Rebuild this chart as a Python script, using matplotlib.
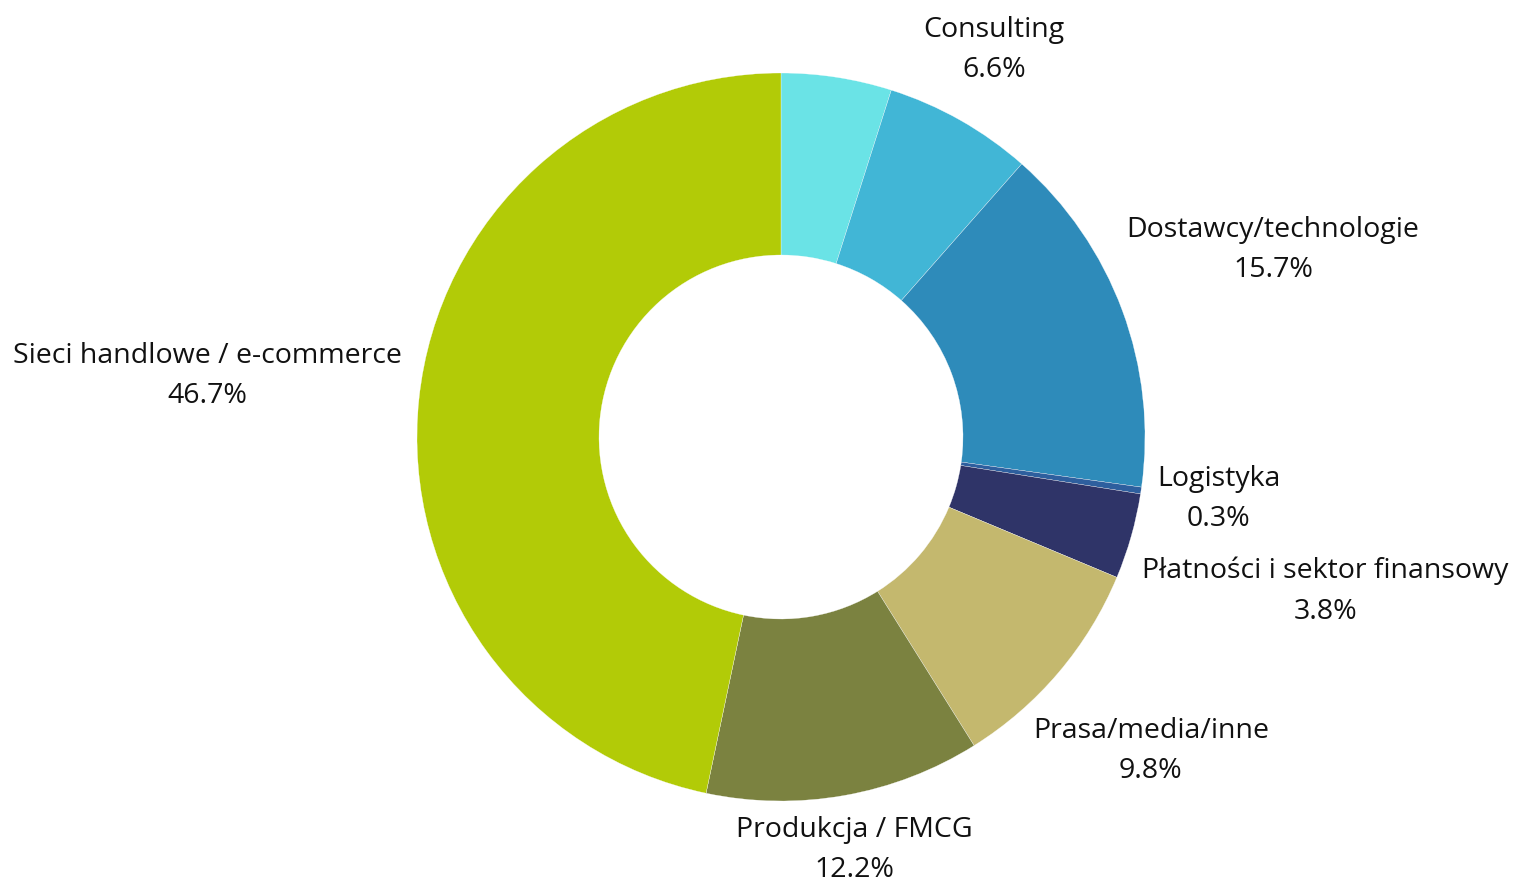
import matplotlib
matplotlib.use('Agg')
import matplotlib.pyplot as plt

# --- datos ---
etiquetas = ['', 'Consulting', 'Dostawcy/technologie', 'Logistyka',
             'Płatności i sektor finansowy', 'Prasa/media/inne',
             'Produkcja / FMCG', 'Sieci handlowe / e-commerce']
valores = [4.9, 6.6, 15.7, 0.3, 3.8, 9.8, 12.2, 46.7]
colores = ['#6ae3e6', '#41b6d6', '#2e8bba', '#2e5f9e', '#2f3468',
           '#c4b86e', '#7b8240', '#b2cb07']

# posiciones de las etiquetas (unidades del radio)
pos_etiquetas = [None, (0.585, 1.063), (1.352, 0.514), (1.203, -0.170),
                 (1.495, -0.423), (1.016, -0.863), (0.201, -1.135),
                 (-1.577, 0.168)]

W, H = 1515, 885
CX, CY, R = 781, 437, 364

plt.rcParams['font.family'] = ['Open Sans', 'DejaVu Sans']
fig = plt.figure(figsize=(W / 100, H / 100), dpi=100)
ax = fig.add_axes([0, 0, 1, 1])

ax.pie(valores, colors=colores, startangle=90, counterclock=False,
       radius=1, wedgeprops=dict(width=0.5, edgecolor='white', linewidth=0.2))

for et, v, p in zip(etiquetas, valores, pos_etiquetas):
    if p is None:
        continue
    ax.text(p[0], p[1], f'{et}\n{v:.1f}%', ha='center', va='center',
            multialignment='center', fontsize=20.5, color='#111111',
            linespacing=1.6)

ax.set_xlim(-CX / R, (W - CX) / R)
ax.set_ylim(-(H - CY) / R, CY / R)
ax.set_aspect('auto')
ax.axis('off')

plt.savefig('out.png', dpi=100, facecolor='white')
